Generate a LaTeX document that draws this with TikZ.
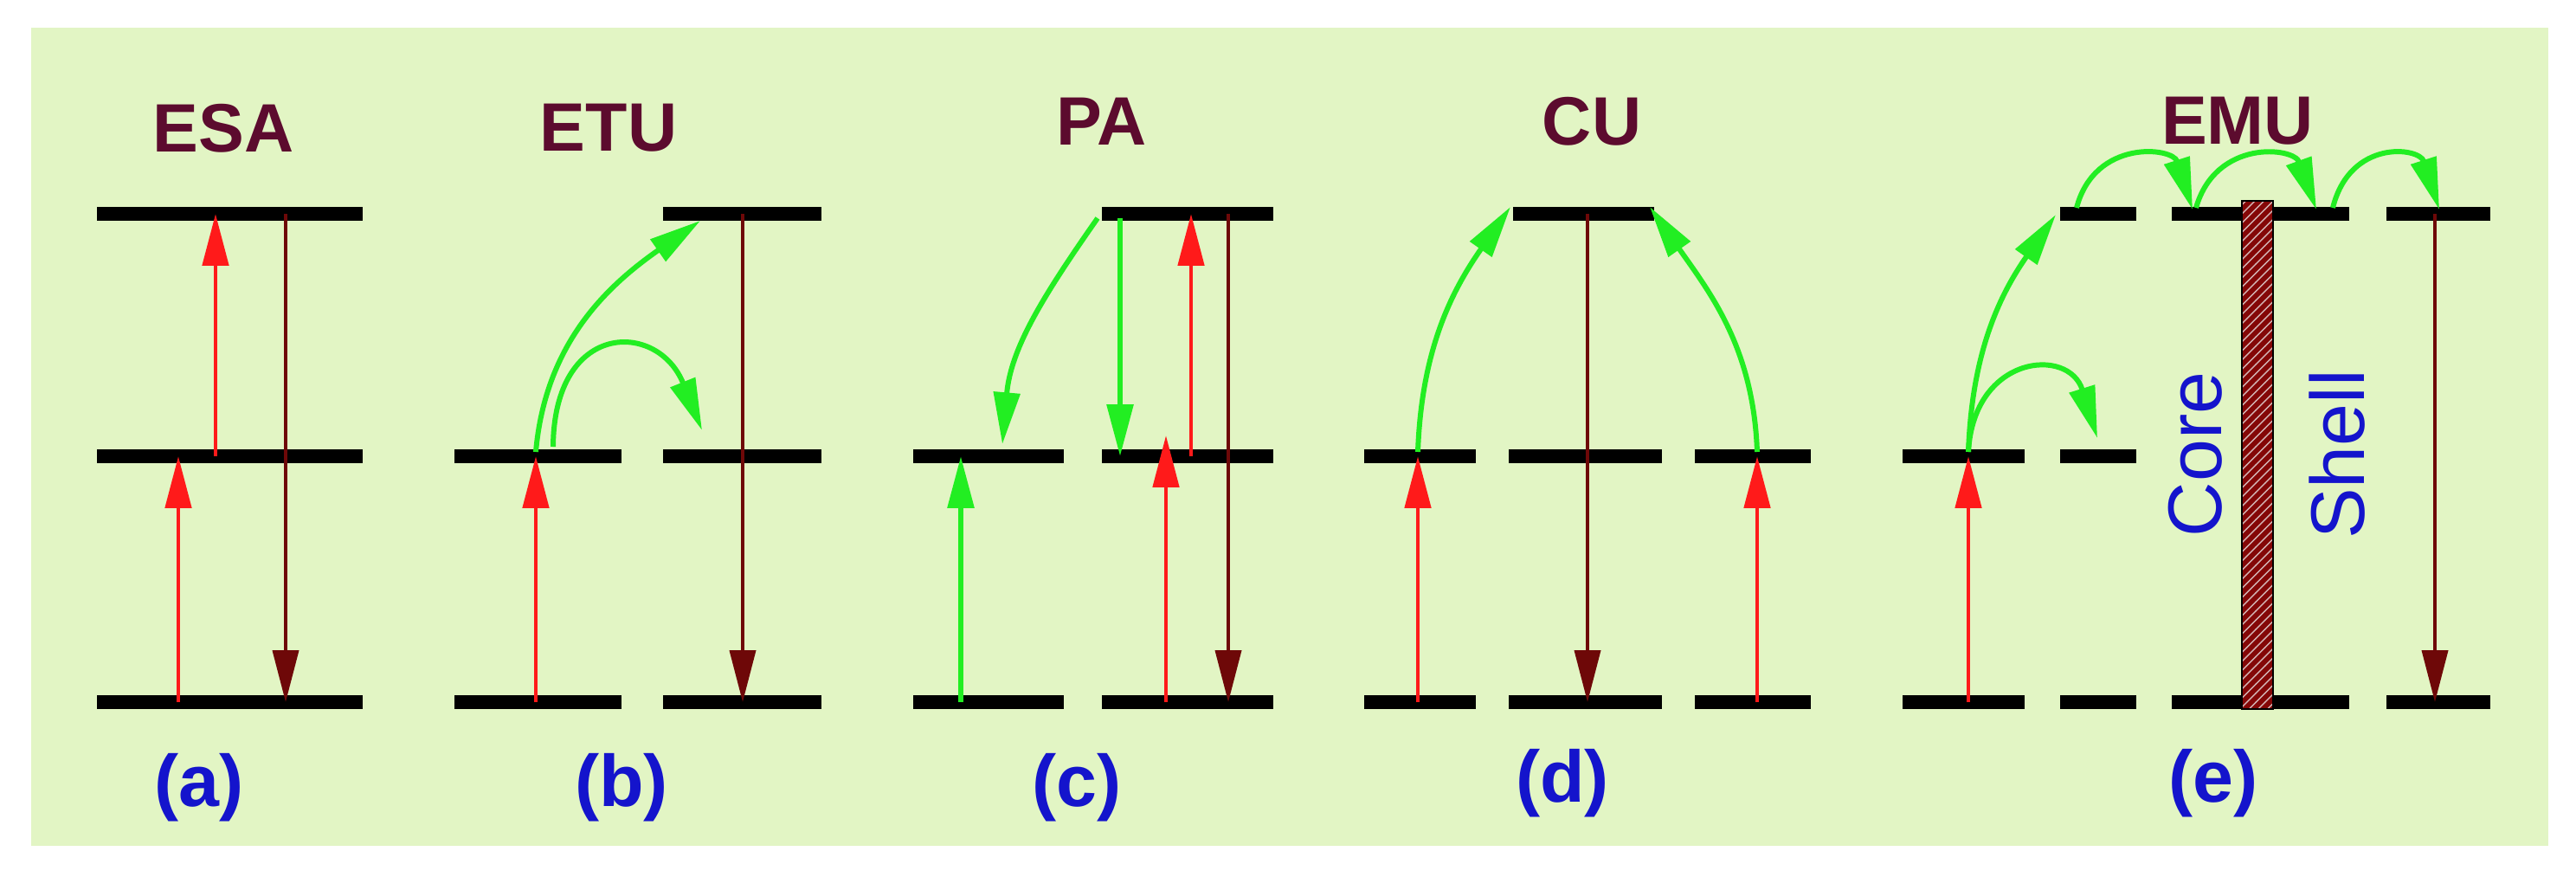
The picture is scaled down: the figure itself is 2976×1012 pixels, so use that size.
\documentclass[tikz,border=0pt]{standalone}
\usepackage{fontspec}
\setmainfont{Liberation Sans}
\usetikzlibrary{arrows.meta,patterns}
\definecolor{bg}{HTML}{E2F5C4}
\definecolor{rd}{HTML}{FF1A1A}
\definecolor{br}{HTML}{6E0808}
\definecolor{gr}{HTML}{22EE22}
\definecolor{tt}{HTML}{5C0B2E}
\definecolor{bl}{HTML}{1414CC}
\begin{document}
\begin{tikzpicture}[x=0.01cm,y=-0.01cm,
 lev/.style={line width=4.6pt},
 red/.style={rd,line width=1.4pt,-{Triangle[length=17pt,width=8.5pt]}},
 brn/.style={br,line width=1.1pt,-{Triangle[length=17pt,width=8.5pt]}},
 grn/.style={gr,line width=1.7pt,-{Triangle[length=17pt,width=8.5pt]}},
 ttl/.style={tt,font=\fontsize{22.5}{22.5}\selectfont\bfseries},
 lab/.style={bl,font=\fontsize{24}{24}\selectfont\bfseries},
 cs/.style={bl,font=\fontsize{25}{25}\selectfont,rotate=90}]
\useasboundingbox (0,0) rectangle (2976,1012);
\fill[bg] (36,32) rectangle (2944,977);
% titles and labels
\node[ttl] (tA) at (258,148) {ESA};
\node[ttl] (tB) at (703,148) {ETU};
\node[ttl] (tC) at (1273,140) {PA};
\node[ttl] (tD) at (1839,140) {CU};
\node[ttl] (tE) at (2585,140) {EMU};
\node[lab] (lA) at (230,910) {(a)};
\node[lab] (lB) at (718,910) {(b)};
\node[lab] (lC) at (1244,910) {(c)};
\node[lab] (lD) at (1805,905) {(d)};
\node[lab] (lE) at (2557,905) {(e)};
% levels
\foreach \a/\b/\y in {112/419/247,112/419/527,112/419/811,
  525/718/527,525/718/811,766/949/247,766/949/527,766/949/811,
  1055/1229/527,1055/1229/811,1273/1471/247,1273/1471/527,1273/1471/811,
  1576/1705/527,1576/1705/811,1743/1920/527,1743/1920/811,1958/2092/527,1958/2092/811,1748/1911/247,
  2198/2339/527,2198/2339/811,2380/2468/247,2380/2468/527,2380/2468/811,
  2509/2714/247,2509/2714/811,2757/2877/247,2757/2877/811}
  \draw[lev] (\a,\y) -- (\b,\y);
% (a)
\coordinate (a1) at (206,811); \coordinate (a2) at (206,527);
\coordinate (a3) at (249,527); \coordinate (a4) at (249,247);
\coordinate (a5) at (330,247); \coordinate (a6) at (330,811);
\draw[red] (a1) -- (a2); \draw[red] (a3) -- (a4); \draw[brn] (a5) -- (a6);
% (b)
\coordinate (b1) at (619,811); \coordinate (b2) at (619,527);
\coordinate (b3) at (858,247); \coordinate (b4) at (858,811);
\coordinate (b5) at (619,522); \coordinate (b6) at (809,255);
\coordinate (b7) at (639,516); \coordinate (b8) at (811,497);
\draw[red] (b1) -- (b2); \draw[brn] (b3) -- (b4);
\draw[grn] (b5) to[out=85,in=215] (b6);
\draw[grn] (b7) .. controls (640,370) and (760,370) .. (b8);
% (c)
\coordinate (c1) at (1110,811); \coordinate (c2) at (1110,527);
\coordinate (c3) at (1268,252); \coordinate (c4) at (1158,513);
\coordinate (c5) at (1294,252); \coordinate (c6) at (1294,527);
\coordinate (c7) at (1376,527); \coordinate (c8) at (1376,247);
\coordinate (c9) at (1347,811); \coordinate (c10) at (1347,503);
\coordinate (c11) at (1419,247); \coordinate (c12) at (1419,811);
\draw[grn] (c1) -- (c2);
\draw[grn] (c3) to[out=235,in=85] (c4);
\draw[grn] (c5) -- (c6);
\draw[red] (c7) -- (c8); \draw[red] (c9) -- (c10); \draw[brn] (c11) -- (c12);
% (d)
\coordinate (d1) at (1638,811); \coordinate (d2) at (1638,527);
\coordinate (d3) at (2030,811); \coordinate (d4) at (2030,527);
\coordinate (d5) at (1834,247); \coordinate (d6) at (1834,811);
\coordinate (d7) at (1638,522); \coordinate (d8) at (1745,239);
\coordinate (d9) at (2030,522); \coordinate (d10) at (1906,239);
\draw[red] (d1) -- (d2); \draw[red] (d3) -- (d4); \draw[brn] (d5) -- (d6);
\draw[grn] (d7) to[out=88,in=235] (d8);
\draw[grn] (d9) to[out=92,in=305] (d10);
% (e)
\fill[br!85!red] (2590,232) rectangle (2626,819);
\fill[pattern=north east lines,pattern color=white!70!br] (2590,232) rectangle (2626,819);
\draw[black,line width=0.6pt] (2590,232) rectangle (2626,819);
\coordinate (e1) at (2274,811); \coordinate (e2) at (2274,527);
\coordinate (e3) at (2813,247); \coordinate (e4) at (2813,811);
\coordinate (e5) at (2274,522); \coordinate (e6) at (2375,248);
\coordinate (e7) at (2423,506);
\coordinate (e8) at (2399,240); \coordinate (e9) at (2533,242);
\coordinate (e10) at (2537,240); \coordinate (e11) at (2676,242);
\coordinate (e12) at (2695,240); \coordinate (e13) at (2818,242);
\draw[red] (e1) -- (e2); \draw[brn] (e3) -- (e4);
\draw[grn] (e5) to[out=88,in=235] (e6);
\draw[grn] (e5) .. controls (2280,410) and (2390,400) .. (e7);
\draw[grn] (e8) .. controls (2420,160) and (2510,170) .. (e9);
\draw[grn] (e10) .. controls (2560,160) and (2650,170) .. (e11);
\draw[grn] (e12) .. controls (2715,160) and (2795,170) .. (e13);
\node[cs] (core) at (2536,525) {Core};
\node[cs] (shell) at (2700,525) {Shell};
\end{tikzpicture}
\end{document}
